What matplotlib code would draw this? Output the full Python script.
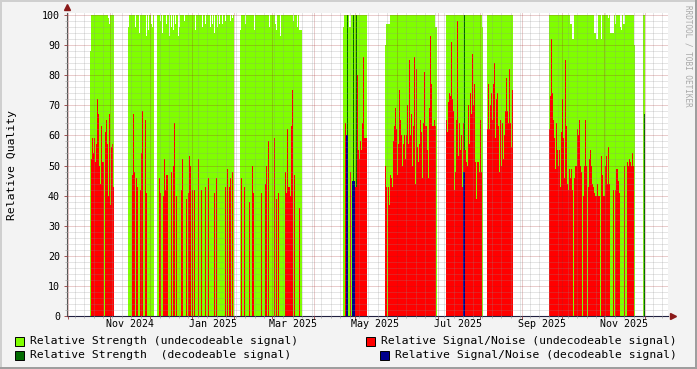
import numpy as np
import pandas as pd
import matplotlib
matplotlib.use('Agg')
import matplotlib.pyplot as plt
import matplotlib.dates as mdates
import matplotlib.transforms as mtransforms
from matplotlib.patches import Rectangle

# one consolidated value per pixel column of the rrd graph
STEP_DAYS = 0.74
view_start = '2024-09-30 10:00'
view_end = '2025-12-18 03:45'

# start of each block of data (gaps in between are unknown)
seg_start = ['2024-10-17 10:30', '2024-11-14 13:20', '2024-12-06 00:20', '2025-02-05 10:30',
             '2025-04-21 22:00', '2025-05-22 23:50', '2025-07-07 03:20', '2025-08-06 11:30',
             '2025-09-21 08:30', '2025-11-29 22:00']

# Relative Strength (undecodeable signal)
strength = [
    [88, 100, 100, 100, 100, 100, 100, 100, 100, 100, 100, 100, 100, 100, 100, 100, 100, 100, 99, 97,
     100, 100, 100, 100],
    [96, 100, 100, 100, 100, 100, 100, 96, 100, 100, 100, 94, 100, 100, 100, 100, 100, 100, 93, 100,
     95, 100, 100, 97, 96, 100],
    [100, 100, 100, 98, 100, 94, 100, 100, 100, 97,
     100, 100, 93, 100, 96, 100, 95, 100, 97, 100,
     100, 93, 96, 100, 100, 100, 100, 98, 100, 100,
     100, 100, 100, 100, 100, 100, 100, 100, 95, 100,
     100, 100, 100, 100, 100, 96, 100, 100, 97, 100,
     100, 100, 100, 96, 100, 97, 100, 94, 100, 100,
     96, 100, 97, 100, 100, 97, 100, 100, 98, 100,
     100, 100, 100, 98, 100, 99, 100],
    [95, 100, 100, 100, 100, 97, 100, 100, 100, 100,
     100, 100, 100, 100, 95, 100, 100, 100, 100, 100,
     100, 100, 100, 100, 100, 100, 100, 100, 100, 96,
     100, 100, 100, 100, 100, 97, 95, 100, 100, 100,
     93, 100, 100, 100, 100, 100, 100, 100, 100, 100,
     100, 100, 98, 100, 100, 100, 96, 100, 95, 95,
     95],
    [96, 100, 100, 100, 100, 100, 96, 96, 100, 100, 100, 100, 100, 100, 100, 100, 100, 100, 100, 100,
     100, 100, 100, 100],
    [90, 97, 97, 97, 97, 100, 100, 100, 100, 100,
     100, 100, 100, 100, 100, 100, 100, 100, 100, 100,
     100, 100, 100, 100, 100, 100, 100, 100, 100, 100,
     100, 100, 100, 100, 100, 100, 100, 100, 100, 100,
     100, 100, 100, 100, 100, 100, 100, 100, 100, 100,
     96, 96],
    [100, 100, 100, 100, 100, 100, 100, 100, 100, 100,
     100, 100, 100, 100, 100, 100, 100, 100, 100, 100,
     100, 100, 100, 100, 100, 100, 100, 100, 100, 100,
     100, 100, 100, 100, 100, 100, 96],
    [100, 100, 100, 100, 100, 100, 100, 100, 100, 100, 100, 100, 100, 100, 100, 100, 100, 100, 100, 100,
     100, 100, 100, 100, 100, 100],
    [100, 100, 100, 100, 100, 100, 100, 100, 100, 100,
     100, 100, 100, 100, 100, 100, 100, 100, 100, 100,
     100, 97, 97, 92, 92, 100, 100, 100, 100, 100,
     100, 100, 100, 100, 100, 100, 100, 100, 100, 100,
     100, 100, 100, 100, 100, 94, 94, 92, 92, 100,
     100, 100, 92, 100, 100, 100, 100, 100, 100, 99,
     100, 94, 94, 94, 94, 100, 97, 100, 100, 100,
     100, 96, 95, 100, 97, 97, 100, 100, 100, 100,
     100, 100, 100, 100, 100, 90],
    [100, 100],
]

# Relative Signal/Noise (undecodeable signal)
snr = [
    [0, 52, 59, 54, 59, 51, 57, 72, 67, 50, 44, 63, 51, 51, 0, 61, 65, 57, 40, 67, 37, 56, 57, 43],
    [0, 0, 0, 0, 47, 67, 48, 0, 46, 43, 0, 0, 42, 54, 68, 0, 0, 65, 41, 0, 0, 0, 0, 0, 0, 0],
    [0, 0, 46, 41, 0, 0, 40, 52, 42, 47,
     47, 0, 0, 0, 48, 0, 50, 64, 0, 40,
     0, 0, 0, 0, 42, 52, 0, 0, 0, 39,
     0, 41, 53, 50, 0, 42, 0, 42, 0, 0,
     0, 52, 0, 0, 42, 0, 0, 0, 43, 0,
     0, 46, 0, 0, 0, 0, 0, 41, 0, 46,
     0, 0, 0, 0, 0, 0, 0, 0, 43, 0,
     49, 0, 43, 46, 0, 48, 0],
    [0, 46, 0, 0, 43, 0, 0, 0, 0, 38,
     0, 0, 50, 41, 0, 0, 0, 0, 0, 0,
     0, 41, 0, 0, 0, 44, 50, 0, 58, 0,
     0, 0, 0, 0, 59, 0, 39, 0, 41, 0,
     0, 0, 0, 0, 0, 48, 41, 62, 43, 40,
     63, 75, 0, 47, 0, 0, 0, 0, 36, 0,
     0],
    [0, 0, 64, 0, 0, 0, 0, 48, 0, 0, 0, 0, 43, 43, 80, 55, 52, 58, 55, 64, 86, 59, 59, 59],
    [50, 43, 0, 43, 37, 47, 46, 43, 58, 63,
     69, 62, 47, 57, 75, 65, 60, 50, 57, 60,
     52, 60, 70, 57, 85, 60, 67, 50, 63, 86,
     44, 82, 56, 51, 57, 65, 61, 46, 64, 81,
     63, 63, 55, 46, 69, 93, 77, 63, 63, 65,
     63, 0],
    [65, 61, 71, 74, 73, 91, 72, 68, 42, 48,
     65, 98, 53, 64, 55, 60, 43, 64, 55, 55,
     51, 50, 70, 57, 74, 67, 87, 70, 77, 51,
     39, 51, 51, 48, 65, 48, 0],
    [62, 77, 62, 70, 74, 65, 77, 84, 59, 72, 74, 63, 48, 65, 50, 64, 52, 60, 68, 79,
     68, 64, 82, 64, 56, 75],
    [62, 73, 92, 74, 65, 59, 49, 64, 55, 50,
     55, 43, 61, 72, 59, 46, 85, 63, 44, 42,
     49, 46, 49, 42, 0, 46, 50, 50, 62, 60,
     65, 50, 48, 0, 40, 50, 65, 50, 0, 43,
     52, 55, 50, 44, 43, 41, 40, 40, 44, 40,
     40, 0, 53, 47, 40, 40, 50, 53, 44, 56,
     44, 0, 0, 0, 42, 0, 42, 49, 49, 45,
     41, 0, 0, 0, 0, 50, 0, 0, 51, 50,
     52, 51, 50, 54, 50, 0],
    [0, 0],
]

# decodeable samples are rare, kept as single timestamps
strength_dec_time = ['2025-04-24 21:00', '2025-04-29 07:35', '2025-05-01 12:55', '2025-07-20 11:00',
                     '2025-11-30 15:45']
strength_dec = [100, 100, 100, 100, 67]
snr_dec_time = ['2025-04-24 03:15', '2025-04-24 21:00', '2025-04-28 13:50', '2025-04-29 07:35',
                '2025-04-30 01:20', '2025-07-19 17:10', '2025-07-20 11:00']
snr_dec = [60, 60, 45, 45, 45, 48, 48]

label_months = ['2024-11', '2025-01', '2025-03', '2025-05', '2025-07', '2025-09', '2025-11']
y_ticks = [0, 10, 20, 30, 40, 50, 60, 70, 80, 90, 100]

legend_labels = ['Relative Strength (undecodeable signal)', 'Relative Signal/Noise (undecodeable signal)',
                 'Relative Strength  (decodeable signal)', 'Relative Signal/Noise (decodeable signal)']

C_STRENGTH = '#80FF00'
C_SNR = '#FF0000'
C_STRENGTH_DEC = '#006A00'
C_SNR_DEC = '#00008C'
MONO = 'DejaVu Sans Mono'

W, H = 697, 369
fig = plt.figure(figsize=(W / 100, H / 100), dpi=100)
fig.patch.set_facecolor('#F3F3F3')

# 3d frame like rrdtool
fig.add_artist(Rectangle((0, 1 - 2 / H), 1, 2 / H, transform=fig.transFigure, color='#CFCFCF', lw=0))
fig.add_artist(Rectangle((0, 0), 2 / W, 1, transform=fig.transFigure, color='#CFCFCF', lw=0))
fig.add_artist(Rectangle((0, 0), 1, 2 / H, transform=fig.transFigure, color='#9E9E9E', lw=0))
fig.add_artist(Rectangle((1 - 2 / W, 0), 2 / W, 1, transform=fig.transFigure, color='#9E9E9E', lw=0))

ax = fig.add_axes([67 / W, 1 - 316 / H, 601 / W, 303 / H])
ax.set_facecolor('white')

x0 = mdates.date2num(pd.Timestamp(view_start))
x1 = mdates.date2num(pd.Timestamp(view_end))


def segment_x(start, n):
    return mdates.date2num(pd.Timestamp(start)) + np.arange(n + 1) * STEP_DAYS


# drawing order as in the rrd graph: strength, strength dec, snr, snr dec
for start, vals in zip(seg_start, strength):
    xs = segment_x(start, len(vals))
    ax.fill_between(xs, np.append(vals, vals[-1]), step='post', color=C_STRENGTH, lw=0, antialiased=False)

ax.bar(mdates.date2num(pd.to_datetime(strength_dec_time)), strength_dec, width=STEP_DAYS * 0.9,
       align='edge', color=C_STRENGTH_DEC, lw=0)

for start, vals in zip(seg_start, snr):
    xs = segment_x(start, len(vals))
    ax.fill_between(xs, np.append(vals, vals[-1]), step='post', color=C_SNR, lw=0, antialiased=False)

ax.bar(mdates.date2num(pd.to_datetime(snr_dec_time)), snr_dec, width=STEP_DAYS * 1.05,
       align='edge', color=C_SNR_DEC, lw=0)

ax.set_xlim(x0, x1)
ax.set_ylim(0, 100 + 2 / 3.01)

# grid: monthly / weekly vertical, 10 / 2 horizontal
ax.xaxis.set_major_locator(mdates.MonthLocator())
ax.xaxis.set_minor_locator(mdates.WeekdayLocator(byweekday=mdates.SU))
ax.xaxis.set_major_formatter(plt.NullFormatter())
ax.set_yticks(y_ticks)
ax.set_yticks(np.arange(0, 101, 2), minor=True)
ax.set_yticklabels([str(v) for v in y_ticks], fontfamily=MONO, fontsize=7.2)

ax.set_axisbelow(False)
ax.grid(which='major', color='#A02020', alpha=0.45, lw=0.72, ls=(0, (1, 1)))
ax.grid(which='minor', color='#909090', alpha=0.45, lw=0.72, ls=(0, (1, 1)))
ax.tick_params(which='major', length=2, width=0.7, color='#A05050', pad=3)
ax.tick_params(which='minor', length=1.5, width=0.6, color='#B0B0B0')

for side in ['top', 'right']:
    ax.spines[side].set_visible(False)
ax.spines['left'].set_color('#555555')
ax.spines['bottom'].set_color('#202040')
ax.spines['left'].set_linewidth(0.8)
ax.spines['bottom'].set_linewidth(0.8)

# axis arrows
ax.plot([x0], [1.02], marker='^', transform=mtransforms.blended_transform_factory(ax.transData, ax.transAxes),
        color='#8B1A1A', ms=4, clip_on=False)
ax.plot([1.008], [0], marker='>', transform=mtransforms.blended_transform_factory(ax.transAxes, ax.transData),
        color='#8B1A1A', ms=4, clip_on=False)

# month labels centred half a month after the month start
trans = mtransforms.blended_transform_factory(ax.transData, ax.transAxes)
for m in label_months:
    t = pd.Timestamp(m + '-01')
    ax.text(mdates.date2num(t + pd.Timedelta(days=15)), -8 / 303, t.strftime('%b %Y'),
            transform=trans, ha='center', va='center', fontfamily=MONO, fontsize=7.2)

fig.text(12 / W, 1 - 165 / H, 'Relative Quality', rotation=90, ha='center', va='center',
         fontfamily=MONO, fontsize=8.2)
fig.text(688 / W, 1 - 5 / H, 'RRDTOOL / TOBI OETIKER', rotation=270, ha='center', va='top',
         fontfamily=MONO, fontsize=5.5, color='#A8A8A8')

# legend rows
legend_pos = [(15, 341), (366, 341), (15, 355), (380, 355)]
legend_colors = [C_STRENGTH, C_SNR, C_STRENGTH_DEC, C_SNR_DEC]
for (lx, ly), col, lab in zip(legend_pos, legend_colors, legend_labels):
    fig.add_artist(Rectangle((lx / W, 1 - (ly + 4.5) / H), 9 / W, 9 / H, transform=fig.transFigure,
                             facecolor=col, edgecolor='black', lw=0.7))
    fig.text((lx + 15) / W, 1 - ly / H, lab, ha='left', va='center', fontfamily=MONO, fontsize=8.2)

fig.savefig('out.png', dpi=100, facecolor=fig.get_facecolor())
